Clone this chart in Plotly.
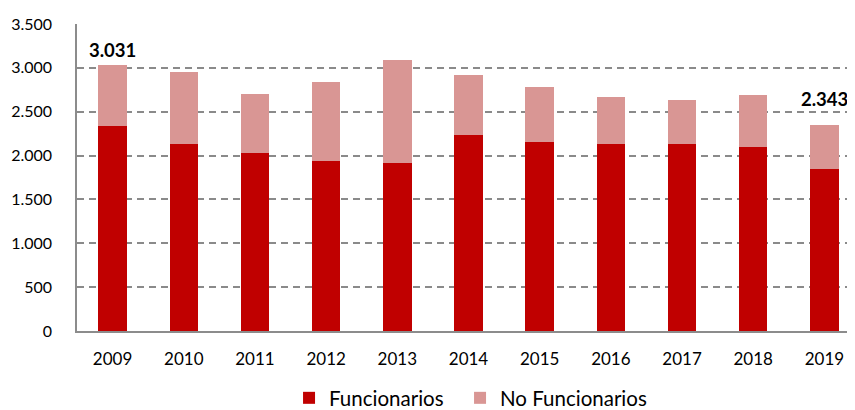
import plotly.graph_objects as go

years = ["2009", "2010", "2011", "2012", "2013", "2014", "2015", "2016", "2017", "2018", "2019"]
funcionarios = [2340, 2130, 2035, 1940, 1920, 2230, 2150, 2135, 2135, 2100, 1850]
no_funcionarios = [691, 825, 670, 900, 1168, 687, 634, 535, 497, 589, 493]
totals = [f + n for f, n in zip(funcionarios, no_funcionarios)]
label_years = ["2009", "2019"]
label_shift = [15, 26]

FONT = "Lato, Calibri, Carlito, sans-serif"

fig = go.Figure()
fig.add_trace(go.Bar(x=years, y=funcionarios, name="Funcionarios", legend="legend",
                     marker=dict(color="#C00000", line=dict(width=0))))
fig.add_trace(go.Bar(x=years, y=no_funcionarios, name="No Funcionarios", legend="legend2",
                     marker=dict(color="#D99694", line=dict(width=0))))

for yr, sh in zip(label_years, label_shift):
    i = years.index(yr)
    fig.add_annotation(x=i, y=totals[i], xref="x", yref="y",
                       text="<b>" + f"{totals[i]:,}".replace(",", ".") + "</b>",
                       showarrow=False, yshift=sh, font=dict(size=18.5, color="#000000", family=FONT))

legend_common = dict(orientation="h", xanchor="left", xref="container", yref="container",
                     y=0, yanchor="bottom", font=dict(size=20.5), bgcolor="rgba(0,0,0,0)")

fig.update_layout(
    width=855, height=410,
    margin=dict(l=69, r=3, t=16, b=87),
    barmode="stack", bargap=0.6,
    plot_bgcolor="white", paper_bgcolor="white",
    separators=",.",
    font=dict(family=FONT, size=17, color="#000000"),
    showlegend=True,
    legend=dict(x=0.3287, **legend_common),
    legend2=dict(x=0.5287, **legend_common),
    xaxis=dict(type="category", categoryorder="array", categoryarray=years,
               range=[-0.5, len(years) - 0.5], showline=True, linecolor="#8c8c8c",
               linewidth=1.5, ticks="", tickfont=dict(size=17), ticklabelstandoff=12,
               automargin=False),
    yaxis=dict(range=[0, 3500], dtick=500, tickformat=",d", showline=True,
               linecolor="#8c8c8c", linewidth=1.5, showgrid=True, gridcolor="#8a8a8a",
               griddash="7px,5px", gridwidth=1.5, zeroline=False, ticks="",
               tickfont=dict(size=16), ticklabelstandoff=20, automargin=False),
)
fig.write_html("out.html")
